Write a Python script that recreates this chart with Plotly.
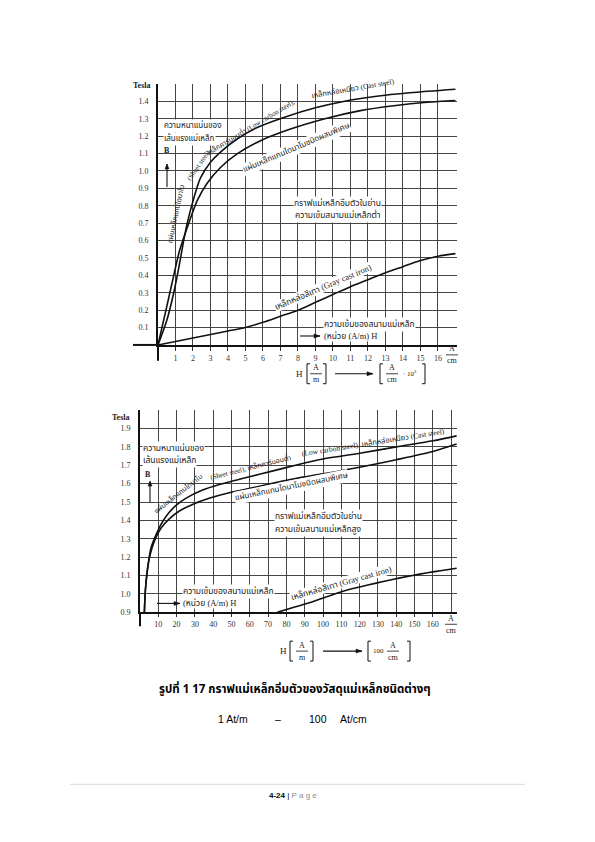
import plotly.graph_objects as go

W, H = 595, 842

# ---- upper chart: low field strength, H in A/cm (x 10^2 A/m)
top_h_ticks = list(range(1, 17))
top_b_ticks = [0.1, 0.2, 0.3, 0.4, 0.5, 0.6, 0.7, 0.8, 0.9, 1.0, 1.1, 1.2, 1.3, 1.4]

top_steel_h = [0, 0.5, 0.9, 1.2, 1.45, 1.67, 2.05, 2.43, 3.0, 3.67, 4.52, 5.67, 7.19, 9.1, 10.6, 12.5, 14.4, 17.0]
top_steel_b = [0, 0.14, 0.30, 0.45, 0.59, 0.70, 0.845, 0.96, 1.05, 1.117, 1.184, 1.25, 1.308, 1.366, 1.40, 1.43, 1.45, 1.47]

top_dynamo_h = [0, 0.5, 0.9, 1.2, 1.45, 1.76, 2.24, 2.81, 3.57, 4.52, 5.86, 7.57, 9.48, 11.57, 13.48, 15.38, 17.0]
top_dynamo_b = [0, 0.22, 0.40, 0.53, 0.61, 0.70, 0.83, 0.93, 1.02, 1.098, 1.174, 1.241, 1.299, 1.347, 1.375, 1.395, 1.405]

top_gray_h = [0, 1, 2, 3, 4, 5, 6, 7, 8, 9, 10, 11, 12, 13, 14, 15, 16, 17]
top_gray_b = [0, 0.02, 0.04, 0.06, 0.08, 0.10, 0.13, 0.165, 0.2, 0.245, 0.29, 0.335, 0.375, 0.415, 0.45, 0.485, 0.51, 0.525]

# ---- lower chart: high field strength, H in A/cm
bot_h_ticks = [10, 20, 30, 40, 50, 60, 70, 80, 90, 100, 110, 120, 130, 140, 150, 160]
bot_h_extra_grid = [170]
bot_b_ticks = [0.9, 1.0, 1.1, 1.2, 1.3, 1.4, 1.5, 1.6, 1.7, 1.8, 1.9]

bot_steel_h = [2.4, 2.9, 4.2, 6, 8.7, 12.4, 16, 20, 25, 34.2, 43.3, 52.4, 61.5, 70.5, 85, 100, 120, 140, 160, 173]
bot_steel_b = [0.9, 1.015, 1.14, 1.25, 1.32, 1.394, 1.444, 1.484, 1.52, 1.565, 1.595, 1.619, 1.642, 1.664, 1.70, 1.734, 1.765, 1.80, 1.833, 1.86]

bot_dynamo_h = [2.4, 2.9, 4.0, 5.1, 7.8, 11.5, 16, 21.5, 28.7, 37.8, 48.7, 61.5, 74.2, 85, 100, 120, 140, 160, 173]
bot_dynamo_b = [0.9, 1.015, 1.13, 1.195, 1.286, 1.358, 1.408, 1.451, 1.487, 1.52, 1.55, 1.577, 1.606, 1.628, 1.653, 1.689, 1.73, 1.775, 1.815]

bot_gray_h = [75, 85, 93, 102, 111, 120, 129, 138, 147.5, 157, 165, 173]
bot_gray_b = [0.9, 0.93, 0.953, 0.985, 1.015, 1.038, 1.059, 1.079, 1.098, 1.115, 1.128, 1.14]

SERIF = "Liberation Serif, Noto Sans Thai, serif"
THAI = "Noto Sans Thai, Loma, Garuda, sans-serif"
INK = "#222222"


def px(x):
    return x / W


def py(y):
    return 1 - y / H


fig = go.Figure()

curve = dict(color="#111111", width=1.6, shape="spline", smoothing=0.8)
for xs, ys in [(top_steel_h, top_steel_b), (top_dynamo_h, top_dynamo_b), (top_gray_h, top_gray_b)]:
    fig.add_trace(go.Scatter(x=xs, y=ys, mode="lines", line=curve, xaxis="x", yaxis="y",
                             showlegend=False, hoverinfo="skip"))
for xs, ys in [(bot_steel_h, bot_steel_b), (bot_dynamo_h, bot_dynamo_b), (bot_gray_h, bot_gray_b)]:
    fig.add_trace(go.Scatter(x=xs, y=ys, mode="lines", line=curve, xaxis="x2", yaxis="y2",
                             showlegend=False, hoverinfo="skip"))

ax_common = dict(showgrid=True, gridcolor="#454545", gridwidth=1, zeroline=False,
                 showline=True, linecolor="#111111", linewidth=2,
                 tickfont=dict(family=SERIF, size=8, color="#333333"))

fig.update_layout(
    width=W, height=H,
    paper_bgcolor="white", plot_bgcolor="white",
    margin=dict(l=0, r=0, t=0, b=0),
    xaxis=dict(domain=[px(158), px(457)], range=[0, 17.09], anchor="y",
               tickmode="array", tickvals=top_h_ticks, ticktext=[str(v) for v in top_h_ticks],
               ticks="outside", ticklen=4, tickcolor="#333333", **ax_common),
    yaxis=dict(domain=[py(347), py(84)], range=[0, 1.503], anchor="x",
               tickmode="array", tickvals=top_b_ticks, ticktext=["%.1f" % v for v in top_b_ticks],
               ticks="", ticklabelstandoff=6, **ax_common),
    xaxis2=dict(domain=[px(140), px(457)], range=[0, 173.2], anchor="y2",
                tickmode="array", tickvals=bot_h_ticks, ticktext=[str(v) for v in bot_h_ticks],
                ticks="outside", ticklen=3, tickcolor="#333333",
                minor=dict(tickmode="array", tickvals=bot_h_extra_grid, showgrid=True,
                           gridcolor="#454545", gridwidth=1, ticks=""),
                **ax_common),
    yaxis2=dict(domain=[py(616), py(412)], range=[0.9, 2.003], anchor="x2",
                tickmode="array", tickvals=bot_b_ticks, ticktext=["%.1f" % v for v in bot_b_ticks],
                ticks="", ticklabelstandoff=6, **ax_common),
)


def line(x0, y0, x1, y1, color="#111111", width=1.2):
    fig.add_shape(type="line", xref="paper", yref="paper", x0=px(x0), y0=py(y0),
                  x1=px(x1), y1=py(y1), line=dict(color=color, width=width))


def note(x, y, text, size=8, angle=0, bg=False, anchor="center", family=THAI, color=INK):
    fig.add_annotation(x=px(x), y=py(y), xref="paper", yref="paper", text=text,
                       showarrow=False, textangle=angle, xanchor=anchor, yanchor="middle",
                       font=dict(family=family, size=size, color=color),
                       bgcolor="white" if bg else None, borderpad=0)


def arrow(x0, y0, x1, y1):
    # shaft plus a small filled head pointing at (x1, y1)
    line(x0, y0, x1, y1, width=1.1)
    if x0 == x1:
        d = -1 if y1 < y0 else 1
        path = "M %f %f L %f %f L %f %f Z" % (px(x1), py(y1), px(x1 - 2), py(y1 - 5 * d), px(x1 + 2), py(y1 - 5 * d))
    else:
        d = 1 if x1 > x0 else -1
        path = "M %f %f L %f %f L %f %f Z" % (px(x1), py(y1), px(x1 - 6 * d), py(y1 - 2), px(x1 - 6 * d), py(y1 + 2))
    fig.add_shape(type="path", xref="paper", yref="paper", path=path,
                  fillcolor="#111111", line=dict(color="#111111", width=0.5))


def frac(x, y, top, bottom, size=8):
    note(x, y - 6, top, size=size, family=SERIF)
    note(x, y + 6, bottom, size=size, family=SERIF)
    line(x - 6, y, x + 6, y, width=0.8)


def bracket(x, y, side):
    # tall square bracket drawn as a path, opening to the given side
    d = 1 if side == "left" else -1
    path = "M %f %f L %f %f L %f %f L %f %f" % (px(x + 3 * d), py(y - 10), px(x), py(y - 10),
                                                px(x), py(y + 10), px(x + 3 * d), py(y + 10))
    fig.add_shape(type="path", xref="paper", yref="paper", path=path,
                  line=dict(color="#111111", width=1))


# axis tails
line(133, 347, 158, 347, width=2)
line(158, 347, 158, 363, width=2)
line(140, 616, 140, 630, width=2)

# ---- upper chart texts
note(142, 86, "<b>Tesla</b>", size=8, family=SERIF)
note(163, 127, "ความหนาแน่นของ", size=8, anchor="left", bg=True)
note(163, 140, "เส้นแรงแม่เหล็ก", size=8, anchor="left", bg=True)
note(167, 151, "<b>B</b>", size=8, family=SERIF)
arrow(167, 188, 167, 165)
note(176, 215, "แผ่นเหล็กแกนไดนาโม", size=7, angle=-78, family=SERIF)
note(199, 166, "(Sheet steel),", size=7, angle=-55, family=SERIF)
note(250, 128, "เหล็กคาร์บอนต่ำ (Low carbon steel),", size=7, angle=-31, family=SERIF)
note(353, 89, "เหล็กหล่อเหนียว (Cast steel)", size=7.5, angle=-10, family=SERIF)
note(296, 149, "แผ่นเหล็กแกนไดนาโมชนิดผสมพิเศษ", size=8, angle=-23, bg=True)
note(337, 205, "กราฟแม่เหล็กอิ่มตัวในย่าน", size=8.5, bg=True)
note(337, 217, "ความเข้มสนามแม่เหล็กต่ำ", size=8.5, bg=True)
note(323, 289, "เหล็กหล่อสีเทา (Gray cast iron)", size=8.5, angle=-23, bg=True, family=SERIF)
note(323, 326, "ความเข้มของสนามแม่เหล็ก", size=8.5, anchor="left", bg=True)
note(323, 338, "(หน่วย (A/m) H", size=8.5, anchor="left", bg=True, family=SERIF)
arrow(300, 338, 320, 338)
frac(452, 357, "A", "cm")

note(299, 376, "H", size=9, family=SERIF)
bracket(307, 376, "left")
frac(316, 376, "A", "m")
bracket(326, 376, "right")
arrow(335, 376, 373, 376)
bracket(380, 376, "left")
frac(392, 376, "A", "cm")
note(410, 376, "· 10<sup>2</sup>", size=7, family=SERIF)
bracket(425, 376, "right")

# ---- lower chart texts
note(121, 420, "<b>Tesla</b>", size=8, family=SERIF)
note(142, 451, "ความหนาแน่นของ", size=8.5, anchor="left", bg=True)
note(142, 463, "เส้นแรงแม่เหล็ก", size=8.5, anchor="left", bg=True)
note(148, 477, "<b>B</b>", size=8, family=SERIF)
arrow(150, 505, 150, 484)
note(178, 496, "แผ่นเหล็กแกนไดนาโม", size=7, angle=-38, family=SERIF)
note(250, 470, "(Sheet steel), เหล็กคาร์บอนต่ำ", size=7, angle=-14, family=SERIF)
note(373, 445, "(Low carbon steel), เหล็กหล่อเหนียว (Cast steel)", size=7.5, angle=-9, family=SERIF)
note(291, 490, "แผ่นเหล็กแกนไดนาโมชนิดผสมพิเศษ", size=8, angle=-11.5, bg=True)
note(318, 520, "กราฟแม่เหล็กอิ่มตัวในย่าน", size=8.5, bg=True)
note(318, 533, "ความเข้มสนามแม่เหล็กสูง", size=8.5, bg=True)
note(341, 586, "เหล็กหล่อสีเทา (Gray cast iron)", size=8.5, angle=-16, bg=True, family=SERIF)
note(182, 595, "ความเข้มของสนามแม่เหล็ก", size=8.5, anchor="left", bg=True)
note(182, 607, "(หน่วย (A/m) H", size=8.5, anchor="left", bg=True, family=SERIF)
arrow(157, 607, 180, 607)
frac(451, 628, "A", "cm")

note(283, 655, "H", size=9, family=SERIF)
bracket(290, 655, "left")
frac(302, 655, "A", "m")
bracket(313, 655, "right")
arrow(323, 655, 362, 655)
bracket(368, 655, "left")
note(378, 655, "100", size=7, family=SERIF)
frac(393, 655, "A", "cm")
bracket(410, 655, "right")

# ---- caption and footer
note(295, 694, "<b>รูปที่ 1 17 กราฟแม่เหล็กอิ่มตัวของวัสดุแม่เหล็กชนิดต่างๆ</b>", size=11.5, color="#000000")
note(233, 723, "1 At/m", size=10.5, family="Liberation Sans, sans-serif", color="#000000")
note(278, 723, "–", size=10.5, family="Liberation Sans, sans-serif", color="#000000")
note(318, 723, "100", size=10.5, family="Liberation Sans, sans-serif", color="#000000")
note(353, 723, "At/cm", size=10.5, family="Liberation Sans, sans-serif", color="#000000")
line(70, 789, 525, 789, color="#d9d9d9", width=1)
note(293, 800, "<b>4-24</b> | <span style='color:#8c8c8c'>P a g e</span>", size=8,
     family="Liberation Sans, sans-serif", color="#000000")

fig.write_html("out.html", config={"displayModeBar": False},
               post_script="document.body.style.margin='0';")
